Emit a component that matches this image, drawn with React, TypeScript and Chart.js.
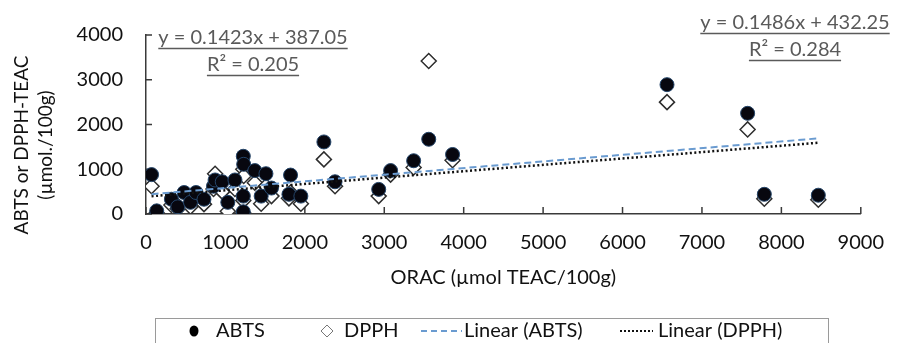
import React, { useEffect, useRef } from "react";
import { Chart, registerables } from "chart.js";

Chart.register(...registerables);

// ---- data ----
const oracValues = [70, 135, 320, 400, 480, 560, 630, 730, 850, 870, 960, 1030, 1120, 1225, 1230, 1370, 1225, 1225, 1510, 1450, 1580, 1820, 1800, 1950, 2240, 2380, 2930, 3080, 3370, 3560, 3860, 6560, 7575, 7785, 8465];
const abtsValues = [880, 70, 330, 160, 480, 260, 480, 330, 620, 760, 720, 260, 760, 1290, 1110, 970, 400, 50, 900, 400, 580, 870, 440, 400, 1610, 720, 550, 970, 1190, 1670, 1330, 2890, 2250, 440, 420];
const dpphValues = [620, 20, 200, 120, 380, 160, 350, 220, 560, 900, 500, 60, 560, 1000, 850, 700, 300, 20, 620, 230, 400, 480, 350, 230, 1220, 620, 400, 880, 1040, 3420, 1200, 2500, 1890, 340, 320];

const xTickValues = [0, 1000, 2000, 3000, 4000, 5000, 6000, 7000, 8000, 9000];
const yTickValues = [0, 1000, 2000, 3000, 4000];

const seriesNames = ["ABTS", "DPPH"];
const trendNames = ["Linear (ABTS)", "Linear (DPPH)"];
const trendSlopes = [0.1486, 0.1423];
const trendIntercepts = [432.25, 387.05];
const equationLeft = ["y = 0.1423x + 387.05", "R\u00B2 = 0.205"];
const equationRight = ["y = 0.1486x + 432.25", "R\u00B2 = 0.284"];

const xTitle = "ORAC (\u00B5mol TEAC/100g)";
const yTitle = ["ABTS or DPPH-TEAC", "(\u00B5mol./100g)"];

const FONT = 'Lato, "Open Sans", sans-serif';
const TEXT = "#111111";
const EQ = "#5a5a5a";

function drawDiamond(ctx: CanvasRenderingContext2D, x: number, y: number, r: number) {
  ctx.beginPath();
  ctx.moveTo(x, y - r);
  ctx.lineTo(x + r, y);
  ctx.lineTo(x, y + r);
  ctx.lineTo(x - r, y);
  ctx.closePath();
}

const decorPlugin = {
  id: "decor",
  beforeDatasetsDraw(chart: any) {
    const { ctx, chartArea, scales } = chart;
    const x = scales.x;
    const y = scales.y;
    ctx.save();
    ctx.strokeStyle = "#3a3a3a";
    ctx.lineWidth = 1.5;
    ctx.beginPath();
    xTickValues.forEach((v) => {
      const px = x.getPixelForValue(v);
      ctx.moveTo(px, chartArea.bottom);
      ctx.lineTo(px, chartArea.bottom - 7);
    });
    yTickValues.forEach((v) => {
      const py = y.getPixelForValue(v);
      ctx.moveTo(chartArea.left, py);
      ctx.lineTo(chartArea.left + 6, py);
    });
    ctx.stroke();
    ctx.restore();
  },
  afterDraw(chart: any) {
    const { ctx } = chart;
    ctx.save();

    // trendline equations
    ctx.font = `20px ${FONT}`;
    ctx.fillStyle = EQ;
    ctx.strokeStyle = EQ;
    ctx.lineWidth = 1.3;
    ctx.textAlign = "center";
    ctx.textBaseline = "middle";
    const eqs: [string[], number, number[]][] = [
      [equationLeft, 253, [38, 65]],
      [equationRight, 795, [23, 50]],
    ];
    eqs.forEach(([lines, cx, ys]) => {
      lines.forEach((t, i) => {
        ctx.fillText(t, cx, ys[i]);
        const w = ctx.measureText(t).width;
        ctx.beginPath();
        ctx.moveTo(cx - w / 2, ys[i] + 10.5);
        ctx.lineTo(cx + w / 2, ys[i] + 10.5);
        ctx.stroke();
      });
    });

    // y axis title (two lines, rotated)
    ctx.fillStyle = TEXT;
    ctx.font = `19px ${FONT}`;
    const yCenters = [22, 46];
    yTitle.forEach((t, i) => {
      ctx.save();
      ctx.translate(yCenters[i], 145);
      ctx.rotate(-Math.PI / 2);
      ctx.fillText(t, 0, 0);
      ctx.restore();
    });

    // legend
    const top = 318;
    const ly = 331;
    ctx.strokeStyle = "#9a9a9a";
    ctx.lineWidth = 1;
    ctx.strokeRect(155.5, top + 0.5, 673, 40);
    ctx.font = `20px ${FONT}`;
    ctx.textAlign = "left";
    ctx.fillStyle = TEXT;
    // ABTS marker
    ctx.beginPath();
    ctx.ellipse(194, ly, 4.5, 5.5, 0, 0, Math.PI * 2);
    ctx.fillStyle = "#000";
    ctx.fill();
    ctx.fillStyle = TEXT;
    ctx.fillText(seriesNames[0], 216, ly);
    // DPPH marker
    drawDiamond(ctx, 327, ly, 6);
    ctx.strokeStyle = "#777";
    ctx.stroke();
    ctx.fillText(seriesNames[1], 344, ly);
    // Linear ABTS marker
    ctx.strokeStyle = "#6a9bd0";
    ctx.lineWidth = 2;
    ctx.setLineDash([6, 4]);
    ctx.beginPath();
    ctx.moveTo(421, ly);
    ctx.lineTo(462, ly);
    ctx.stroke();
    ctx.fillText(trendNames[0], 464, ly);
    // Linear DPPH marker
    ctx.strokeStyle = "#111";
    ctx.setLineDash([2, 2]);
    ctx.beginPath();
    ctx.moveTo(620, ly);
    ctx.lineTo(653, ly);
    ctx.stroke();
    ctx.setLineDash([]);
    ctx.fillText(trendNames[1], 658, ly);

    ctx.restore();
  },
};

export default function App() {
  const ref = useRef<HTMLCanvasElement | null>(null);

  useEffect(() => {
    document.body.style.margin = "0";
    const canvas = ref.current;
    if (!canvas) return;
    const xMin = Math.min(...oracValues);
    const xMax = Math.max(...oracValues);
    const trendData = trendSlopes.map((s, i) => [
      { x: xMin, y: s * xMin + trendIntercepts[i] },
      { x: xMax, y: s * xMax + trendIntercepts[i] },
    ]);

    const chart = new Chart(canvas, {
      type: "scatter",
      data: {
        datasets: [
          {
            label: seriesNames[0],
            data: oracValues.map((x, i) => ({ x, y: abtsValues[i] })),
            pointStyle: "circle",
            pointRadius: 7,
            pointBackgroundColor: "#07070f",
            pointBorderColor: "#24456a",
            pointBorderWidth: 1,
            order: 1,
          },
          {
            label: seriesNames[1],
            data: oracValues.map((x, i) => ({ x, y: dpphValues[i] })),
            pointStyle: "rectRot",
            pointRadius: 7.5,
            pointBackgroundColor: "#ffffff",
            pointBorderColor: "#2e2e2e",
            pointBorderWidth: 1.5,
            order: 2,
          },
          {
            type: "line",
            label: trendNames[0],
            data: trendData[0],
            showLine: true,
            borderColor: "#6a9bd0",
            borderWidth: 2,
            borderDash: [7, 4],
            pointRadius: 0,
            fill: false,
            order: 0,
          },
          {
            type: "line",
            label: trendNames[1],
            data: trendData[1],
            showLine: true,
            borderColor: "#111111",
            borderWidth: 2.5,
            borderDash: [2, 2.5],
            pointRadius: 0,
            fill: false,
            order: 0,
          },
        ],
      } as any,
      options: {
        responsive: false,
        animation: false,
        devicePixelRatio: 1,
        layout: { padding: { left: 0, top: 26, right: 28, bottom: 0 } },
        plugins: {
          legend: { display: false },
          tooltip: { enabled: false },
        },
        scales: {
          x: {
            type: "linear",
            min: 0,
            max: 9000,
            grid: { display: false, drawTicks: false },
            border: { display: true, color: "#3a3a3a", width: 1.5 },
            ticks: {
              stepSize: 1000,
              padding: 17,
              color: TEXT,
              font: { family: FONT, size: 20 },
              maxRotation: 0,
              callback: (v: any) => String(v),
            },
            title: {
              display: true,
              text: xTitle,
              color: TEXT,
              font: { family: FONT, size: 20 },
              padding: { top: 0, bottom: 53 },
            },
            afterFit: (s: any) => {
              s.height = 129;
            },
          },
          y: {
            type: "linear",
            min: 0,
            max: 4000,
            grid: { display: false, drawTicks: false },
            border: { display: true, color: "#3a3a3a", width: 1.5 },
            ticks: {
              stepSize: 1000,
              padding: 23,
              color: TEXT,
              font: { family: FONT, size: 20 },
              callback: (v: any) => String(v),
            },
            afterFit: (s: any) => {
              s.width = 146;
            },
          },
        },
      } as any,
      plugins: [decorPlugin],
    });
    return () => chart.destroy();
  }, []);

  return <canvas ref={ref} width={901} height={343} style={{ display: "block" }} />;
}
